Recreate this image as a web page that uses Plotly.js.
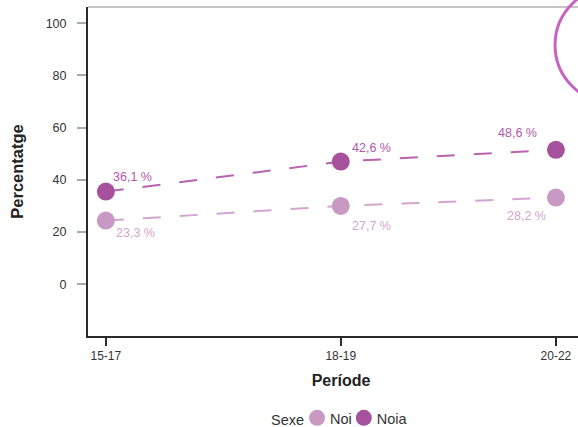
<!DOCTYPE html>
<html>
<head>
<meta charset="utf-8">
<script src="https://cdn.plot.ly/plotly-3.0.1.min.js"></script>
<style>
html,body{margin:0;padding:0;overflow:hidden;background:#fff;width:578px;height:427px;}
#chart{width:610px;height:427px;}
</style>
</head>
<body>
<div id="chart"></div>
<script>
// Data
const periods = ["15-17", "18-19", "20-22"];
const periodPos = [16, 18.5, 20.79];
const noiaValues = [35.5, 47.0, 51.5];
const noiValues = [24.4, 30.0, 33.2];
const noiaLabels = ["36,1 %", "42,6 %", "48,6 %"];
const noiLabels = ["23,3 %", "27,7 %", "28,2 %"];

const noiaColor = "#a6519e";
const noiColor = "#c899c2";
const noiaText = "#b457ac";
const noiText = "#d3a5d0";

const font = "Liberation Sans, Arial, Helvetica, sans-serif";

const traces = [
  {x: periodPos, y: noiValues, mode: "lines", type: "scatter", showlegend: false, hoverinfo: "skip",
   line: {color: "#d2a6d0", width: 2, dash: "18px,19px"}},
  {x: periodPos, y: noiaValues, mode: "lines", type: "scatter", showlegend: false, hoverinfo: "skip",
   line: {color: "#b863b0", width: 2, dash: "18px,19px"}},
  {x: periodPos, y: noiValues, mode: "markers", type: "scatter", name: "Noi",
   marker: {color: noiColor, size: 18}},
  {x: periodPos, y: noiaValues, mode: "markers", type: "scatter", name: "Noia",
   marker: {color: noiaColor, size: 18}}
];

const noiaShift = [[27, 15], [31, 14], [-38, 17]];
const noiShift = [[30, -12], [31, -20], [-29, -18]];
const annotations = [];
periodPos.forEach((p, i) => {
  annotations.push({x: p, y: noiaValues[i], xref: "x", yref: "y", text: noiaLabels[i], showarrow: false,
    xshift: noiaShift[i][0], yshift: noiaShift[i][1], font: {family: font, size: 12.5, color: noiaText}});
  annotations.push({x: p, y: noiValues[i], xref: "x", yref: "y", text: noiLabels[i], showarrow: false,
    xshift: noiShift[i][0], yshift: noiShift[i][1], font: {family: font, size: 12.5, color: noiText}});
});

const layout = {
  width: 610, height: 427,
  margin: {l: 88, r: 16, t: 7, b: 91, pad: 0, autoexpand: false},
  paper_bgcolor: "#fff", plot_bgcolor: "#fff",
  font: {family: font, size: 12, color: "#333"},
  xaxis: {
    range: [15.81, 21.195], automargin: false,
    tickmode: "array", tickvals: periodPos, ticktext: periods,
    showgrid: false, zeroline: false,
    showline: true, linecolor: "#2a2a2a", linewidth: 2,
    ticks: "outside", ticklen: 8, tickwidth: 2, tickcolor: "#2a2a2a",
    tickfont: {family: font, size: 12, color: "#333"},
    title: {text: "<b>Període</b>", font: {family: font, size: 16, color: "#222"}, standoff: 12}
  },
  yaxis: {
    range: [-19.8, 106.2], automargin: false,
    tickvals: [0, 20, 40, 60, 80, 100],
    showgrid: false, zeroline: false,
    showline: true, linecolor: "#2a2a2a", linewidth: 2,
    ticks: "outside", ticklen: 9, tickwidth: 2, tickcolor: "#aaa",
    ticklabelstandoff: 8,
    tickfont: {family: font, size: 12.5, color: "#333"},
    title: {text: "<b>Percentatge</b>", font: {family: font, size: 16.5, color: "#222"}, standoff: 18}
  },
  showlegend: true,
  legend: {
    orientation: "h", x: 0.5, xanchor: "center", y: -0.249, yanchor: "middle",
    title: {text: "Sexe", side: "left", font: {family: font, size: 14.5, color: "#333"}},
    font: {family: font, size: 14.5, color: "#333"},
    itemsizing: "trace", itemwidth: 30, traceorder: "normal", tracegroupgap: 0
  },
  annotations: annotations,
  shapes: [
    {type: "line", xref: "paper", yref: "paper", x0: 0, x1: 1.1, y0: 1, y1: 1,
     line: {color: "#c4c4c4", width: 2}},
    {type: "circle", xref: "paper", yref: "paper", x0: 0.923, x1: 1.152, y0: 0.708, y1: 1.061,
     line: {color: "#c862c0", width: 3}}
  ]
};

function getT(el) {
  const m = /translate\(\s*([-\d.e]+)[\s,]+([-\d.e]+)\s*\)/.exec(el.getAttribute("transform") || "");
  return m ? [parseFloat(m[1]), parseFloat(m[2])] : [0, 0];
}

// Tighten the legend spacing to match the compact reference legend
function tightenLegend(gd) {
  const legend = gd.querySelector("g.legend");
  if (!legend) return;
  const items = Array.from(legend.querySelectorAll("g.traces"));
  const title = legend.querySelector("text.legendtitletext");
  const betweenGap = 13, textShift = 7;
  let cumulative = 0;
  items.forEach((g, i) => {
    const t = getT(g);
    const shiftThis = (i === 0) ? -15 : cumulative;
    g.setAttribute("transform", "translate(" + (t[0] + shiftThis) + "," + t[1] + ")");
    const txt = g.querySelector("text.legendtext");
    if (txt) txt.setAttribute("x", parseFloat(txt.getAttribute("x") || 40) - textShift);
    cumulative = shiftThis - textShift - betweenGap;
  });
  if (title) {
    const y = parseFloat(title.getAttribute("y") || 0);
    title.setAttribute("y", y + 4);
  }
  const total = -cumulative - betweenGap;
  const lt = getT(legend);
  legend.setAttribute("transform", "translate(" + (lt[0] + total / 2) + "," + lt[1] + ")");
}

const gd = document.getElementById("chart");
Plotly.newPlot(gd, traces, layout, {displayModeBar: false, staticPlot: true}).then(() => tightenLegend(gd));
</script>
</body>
</html>
